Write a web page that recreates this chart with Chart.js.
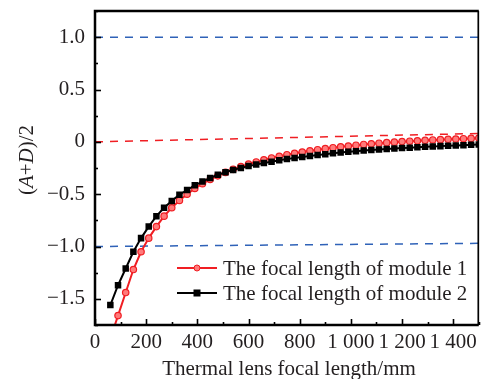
<!DOCTYPE html>
<html>
<head>
<meta charset="utf-8">
<script src="https://cdn.jsdelivr.net/npm/chart.js@4"></script>
<style>
  html, body { margin: 0; padding: 0; background: #fff; }
  #wrap { width: 484px; height: 379px; }
</style>
</head>
<body>
<div id="wrap"><canvas id="chart" width="484" height="379"></canvas></div>
<script>
// thermal lens focal length (mm)
const focalLength = [60, 90, 120, 150, 180, 210, 240, 270, 300, 330, 360, 390, 420, 450, 480, 510, 540,
  570, 600, 630, 660, 690, 720, 750, 780, 810, 840, 870, 900, 930, 960, 990, 1020, 1050, 1080, 1110,
  1140, 1170, 1200, 1230, 1260, 1290, 1320, 1350, 1380, 1410, 1440, 1470, 1500];

const module1 = [-1.88, -1.66, -1.44, -1.22, -1.05, -0.92, -0.81, -0.71, -0.63, -0.56, -0.50, -0.445,
  -0.40, -0.36, -0.325, -0.292, -0.263, -0.237, -0.213, -0.192, -0.172, -0.154, -0.138, -0.123, -0.11,
  -0.097, -0.086, -0.075, -0.065, -0.056, -0.047, -0.04, -0.032, -0.025, -0.019, -0.013, -0.008,
  -0.003, 0.002, 0.006, 0.01, 0.014, 0.018, 0.021, 0.024, 0.027, 0.03, 0.033, 0.036];

const module2 = [-1.56, -1.37, -1.21, -1.05, -0.92, -0.81, -0.71, -0.63, -0.565, -0.505, -0.46, -0.415,
  -0.38, -0.345, -0.315, -0.29, -0.268, -0.25, -0.232, -0.217, -0.203, -0.19, -0.177, -0.165, -0.155,
  -0.145, -0.135, -0.126, -0.118, -0.11, -0.102, -0.095, -0.089, -0.083, -0.078, -0.073, -0.068,
  -0.064, -0.06, -0.056, -0.052, -0.048, -0.045, -0.041, -0.038, -0.035, -0.032, -0.029, -0.026];

// reference dashed lines (x, y)
const refUpperX = [0, 1500], refUpperY = [1.0, 1.0];
const refLowerX = [0, 1500], refLowerY = [-1.0, -0.97];
const refZeroX = [0, 1500], refZeroY = [0, 0.08];

const seriesNames = ['The focal length of module 1', 'The focal length of module 2'];
const xTicks = [0, 200, 400, 600, 800, 1000, 1200, 1400];
const yTicks = [1.0, 0.5, 0, -0.5, -1.0, -1.5];

const FONT = '"Liberation Serif", "Times New Roman", serif';
const FS = 21;
const TXT = '#231f20';
const RED = '#f01e23';
const BLUE = '#2f62b8';

function pts(xs, ys) {
  return xs.map((x, i) => ({ x: x, y: ys[i] }));
}

function fmtX(v) {
  return v >= 1000 ? Math.floor(v / 1000) + ' ' + String(v % 1000).padStart(3, '0') : String(v);
}

function fmtY(v) {
  if (Math.abs(v) < 1e-9) return '0';
  return v.toFixed(1).replace('-', '\u2212');
}

// frame, inward ticks, titles, legend
const decor = {
  id: 'decor',
  afterDatasetsDraw(chart) {
    const ctx = chart.ctx;
    const a = chart.chartArea;
    const xs = chart.scales.x, ys = chart.scales.y;
    ctx.save();
    ctx.strokeStyle = '#000';
    ctx.lineCap = 'butt';
    // ticks
    ctx.lineWidth = 1.6;
    for (let v = 0; v <= 1500; v += 100) {
      const px = Math.round(xs.getPixelForValue(v)) + 0.5;
      const len = v % 200 === 0 ? 6 : 3;
      ctx.beginPath(); ctx.moveTo(px, a.bottom); ctx.lineTo(px, a.bottom - len); ctx.stroke();
    }
    for (let v = -1.75; v <= 1.25; v += 0.25) {
      const py = Math.round(ys.getPixelForValue(v)) + 0.5;
      const major = Math.abs(v * 2 - Math.round(v * 2)) < 1e-6;
      ctx.beginPath(); ctx.moveTo(a.left, py); ctx.lineTo(a.left + (major ? 6 : 3), py); ctx.stroke();
    }
    // frame
    ctx.lineWidth = 2.5;
    ctx.beginPath();
    ctx.moveTo(a.right, a.top); ctx.lineTo(a.left, a.top); ctx.lineTo(a.left, a.bottom); ctx.lineTo(a.right, a.bottom);
    ctx.stroke();
    ctx.lineWidth = 1.7;
    ctx.beginPath(); ctx.moveTo(a.right - 0.5, a.top); ctx.lineTo(a.right - 0.5, a.bottom); ctx.stroke();

    // x title
    ctx.fillStyle = TXT;
    ctx.font = FS + 'px ' + FONT;
    ctx.textAlign = 'center';
    ctx.textBaseline = 'middle';
    ctx.fillText('Thermal lens focal length/mm', 289, 369);

    // y title with italic A and D
    const parts = [['(', false], ['A', true], ['+', false], ['D', true], [')/2', false]];
    let total = 0;
    parts.forEach(p => { ctx.font = (p[1] ? 'italic ' : '') + FS + 'px ' + FONT; total += ctx.measureText(p[0]).width; });
    ctx.translate(27, 160);
    ctx.rotate(-Math.PI / 2);
    ctx.textAlign = 'left';
    let cx = -total / 2;
    parts.forEach(p => {
      ctx.font = (p[1] ? 'italic ' : '') + FS + 'px ' + FONT;
      ctx.fillText(p[0], cx, 0);
      cx += ctx.measureText(p[0]).width;
    });
    ctx.setTransform(1, 0, 0, 1, 0, 0);

    // legend
    const rows = [chart.data.datasets[0], chart.data.datasets[1]];
    rows.forEach((ds, i) => {
      const y = 268 + i * 25;
      ctx.strokeStyle = ds.borderColor;
      ctx.lineWidth = 2;
      ctx.beginPath(); ctx.moveTo(177, y); ctx.lineTo(217, y); ctx.stroke();
      ctx.fillStyle = ds.pointBackgroundColor;
      ctx.strokeStyle = ds.pointBorderColor;
      ctx.lineWidth = 1;
      if (ds.pointStyle === 'rect') {
        ctx.fillRect(193.5, y - 3.5, 7, 7);
      } else {
        ctx.beginPath(); ctx.arc(197, y, 3, 0, Math.PI * 2); ctx.fill(); ctx.stroke();
      }
      ctx.fillStyle = TXT;
      ctx.font = FS + 'px ' + FONT;
      ctx.textAlign = 'left';
      ctx.textBaseline = 'middle';
      ctx.fillText(ds.label, 223, y + 1);
    });
    ctx.restore();
  }
};

function dashed(label, xs, ys, color) {
  return {
    label: label, data: pts(xs, ys), borderColor: color, borderWidth: 1.5,
    borderDash: [8, 7], pointRadius: 0, fill: false, order: 5
  };
}

new Chart(document.getElementById('chart'), {
  type: 'line',
  data: {
    datasets: [
      {
        label: seriesNames[0], data: pts(focalLength, module1),
        borderColor: RED, borderWidth: 2, pointStyle: 'circle', pointRadius: 3.2,
        pointBackgroundColor: '#ff7a7a', pointBorderColor: RED, pointBorderWidth: 1.2, order: 2
      },
      {
        label: seriesNames[1], data: pts(focalLength, module2),
        borderColor: '#000', borderWidth: 2, pointStyle: 'rect', pointRadius: 4.6,
        pointBackgroundColor: '#000', pointBorderColor: '#000', pointBorderWidth: 0, order: 1
      },
      dashed('upper', refUpperX, refUpperY, BLUE),
      dashed('lower', refLowerX, refLowerY, BLUE),
      dashed('zero', refZeroX, refZeroY, RED)
    ]
  },
  options: {
    responsive: false,
    animation: false,
    layout: { padding: { top: 11, right: 1, left: 0, bottom: 0 } },
    plugins: { legend: { display: false }, tooltip: { enabled: false } },
    elements: { line: { tension: 0 } },
    scales: {
      x: {
        type: 'linear', min: 0, max: 1500,
        grid: { display: false, drawTicks: false, tickLength: 0 }, border: { display: false },
        afterFit(s) { s.height = 54; s.paddingLeft = 0; s.paddingRight = 0; },
        afterBuildTicks(s) { s.ticks = xTicks.map(v => ({ value: v })); },
        ticks: {
          autoSkip: false, maxRotation: 0, padding: 5, color: TXT,
          font: { family: FONT, size: FS },
          callback: v => fmtX(v)
        }
      },
      y: {
        type: 'linear', min: -1.75, max: 1.25,
        grid: { display: false, drawTicks: false, tickLength: 0 }, border: { display: false },
        afterFit(s) { s.width = 95; s.paddingTop = 0; s.paddingBottom = 0; },
        afterBuildTicks(s) { s.ticks = yTicks.map(v => ({ value: v })); },
        ticks: {
          autoSkip: false, padding: 10, color: TXT,
          font: { family: FONT, size: FS },
          callback: v => fmtY(v)
        }
      }
    }
  },
  plugins: [decor]
});
</script>
</body>
</html>
